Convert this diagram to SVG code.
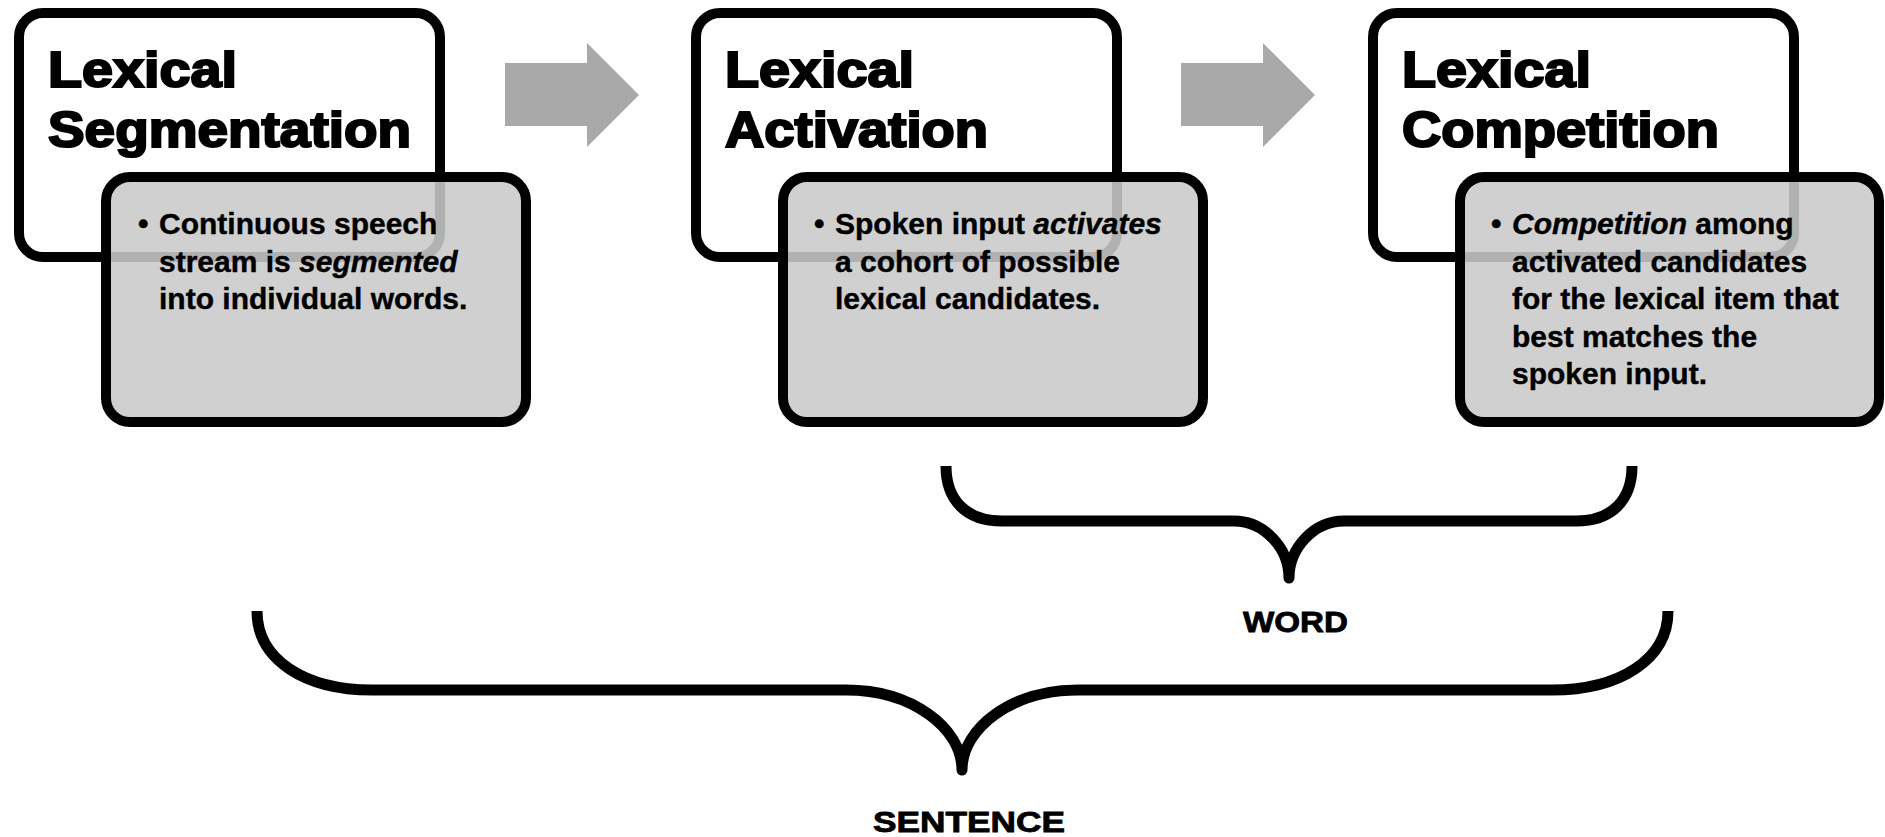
<svg xmlns="http://www.w3.org/2000/svg" width="1885" height="837" viewBox="0 0 1885 837">
<defs>
<style>
.top{fill:#ffffff;stroke:#000000;stroke-width:10}
.sub{fill:#cacaca;fill-opacity:0.88;stroke:#000000;stroke-width:10}
.title{font-family:"Liberation Sans",Arial,sans-serif;font-weight:bold;font-size:50px;fill:#000;stroke:#000;stroke-width:2.2}
.body{font-family:"Liberation Sans",Arial,sans-serif;font-weight:bold;font-size:30px;fill:#000;stroke:#000;stroke-width:0.4}
.lab{font-family:"Liberation Sans",Arial,sans-serif;font-weight:bold;font-size:29px;fill:#000;stroke:#000;stroke-width:0.8}
.arrow{fill:#a9a9a9}
.brace{fill:none;stroke:#000;stroke-width:11;stroke-linejoin:round}
</style>
</defs>
<rect width="1885" height="837" fill="#ffffff"/>

<g id="node-segmentation">
<rect class="top" x="19" y="13" width="421" height="244" rx="24"/>
<text class="title" x="48" y="87" textLength="189" lengthAdjust="spacingAndGlyphs">Lexical</text>
<text class="title" x="48" y="147" textLength="363" lengthAdjust="spacingAndGlyphs">Segmentation</text>
</g>
<g id="node-segmentation-detail">
<rect class="sub" x="106" y="177" width="420" height="245" rx="24"/>
<text class="body" x="138" y="234">•</text>
<text class="body" x="159" y="234">Continuous speech</text>
<text class="body" x="159" y="271.5">stream is <tspan font-style="italic">segmented</tspan></text>
<text class="body" x="159" y="309">into individual words.</text>
</g>

<g id="node-activation">
<rect class="top" x="696" y="13" width="421" height="244" rx="24"/>
<text class="title" x="725" y="87" textLength="189" lengthAdjust="spacingAndGlyphs">Lexical</text>
<text class="title" x="725" y="147" textLength="263" lengthAdjust="spacingAndGlyphs">Activation</text>
</g>
<g id="node-activation-detail">
<rect class="sub" x="783" y="177" width="420" height="245" rx="24"/>
<text class="body" x="814" y="234">•</text>
<text class="body" x="835" y="234">Spoken input <tspan font-style="italic">activates</tspan></text>
<text class="body" x="835" y="271.5">a cohort of possible</text>
<text class="body" x="835" y="309">lexical candidates.</text>
</g>

<g id="node-competition">
<rect class="top" x="1373" y="13" width="421" height="244" rx="24"/>
<text class="title" x="1402" y="87" textLength="189" lengthAdjust="spacingAndGlyphs">Lexical</text>
<text class="title" x="1402" y="147" textLength="317" lengthAdjust="spacingAndGlyphs">Competition</text>
</g>
<g id="node-competition-detail">
<rect class="sub" x="1460" y="177" width="419" height="245" rx="24"/>
<text class="body" x="1491" y="234">•</text>
<text class="body" x="1512" y="234"><tspan font-style="italic">Competition</tspan> among</text>
<text class="body" x="1512" y="271.5">activated candidates</text>
<text class="body" x="1512" y="309">for the lexical item that</text>
<text class="body" x="1512" y="346.5">best matches the</text>
<text class="body" x="1512" y="384">spoken input.</text>
</g>

<g id="connectors">
<polygon class="arrow" points="505,63 587,63 587,43 639,95 587,147 587,126 505,126"/>
<polygon class="arrow" points="1181,63 1263,63 1263,43 1315,95 1263,147 1263,126 1181,126"/>
<path class="brace" d="M946,466 C946,500 966,521 1002,521 L1234,521 C1264,521 1289,548 1289,578 C1289,548 1314,521 1344,521 L1576,521 C1612,521 1632,500 1632,466"/>
<path class="brace" d="M257,611 C257,660 305,690 372,690 L846,690 C912,690 962,728 962,770 C962,728 1012,690 1078,690 L1552,690 C1619,690 1668,660 1668,611"/>
</g>

<g id="labels">
<text class="lab" x="1243" y="632" textLength="105" lengthAdjust="spacingAndGlyphs">WORD</text>
<text class="lab" x="873" y="832" textLength="192" lengthAdjust="spacingAndGlyphs">SENTENCE</text>
</g>
</svg>
